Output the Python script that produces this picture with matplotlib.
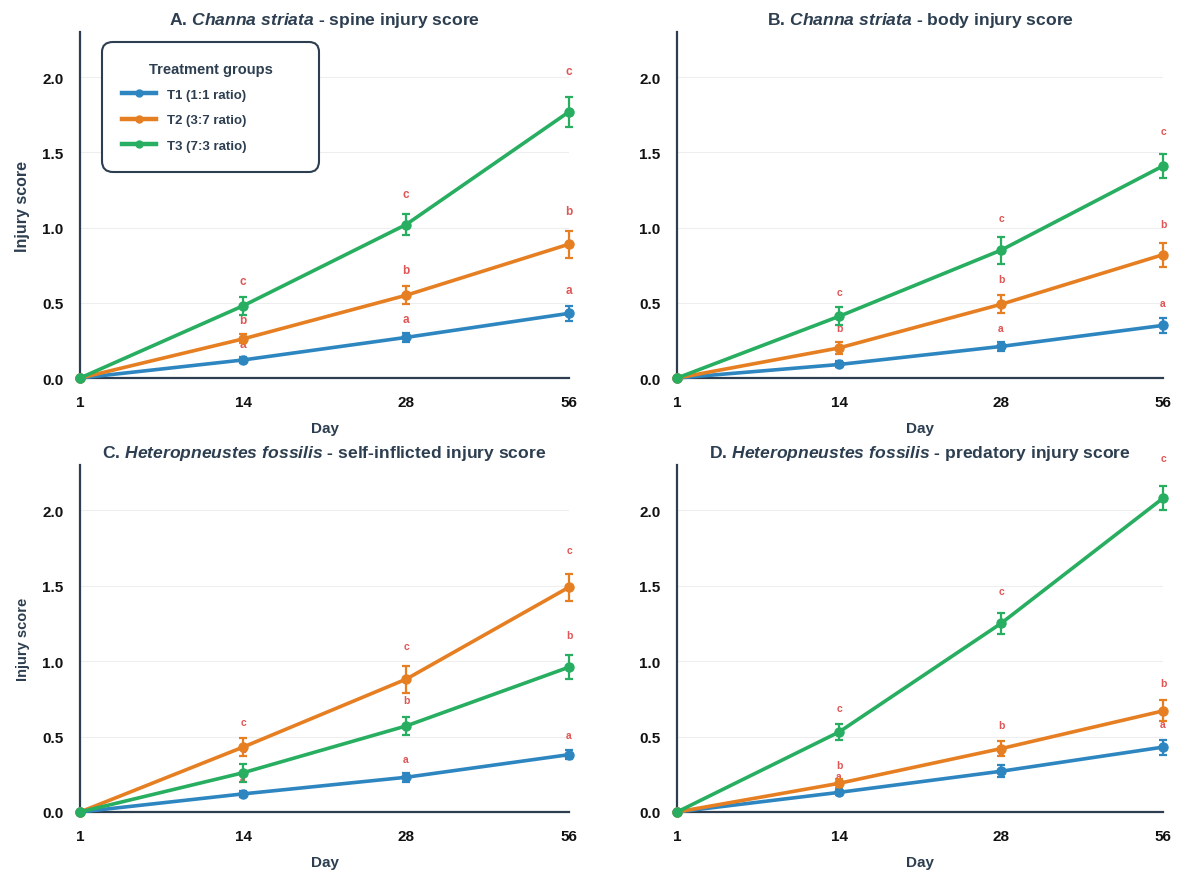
import numpy as np
import matplotlib
matplotlib.use('Agg')
import matplotlib.pyplot as plt
from matplotlib.lines import Line2D

plt.rcParams['font.family'] = ['Liberation Sans', 'DejaVu Sans']
plt.rcParams['mathtext.fontset'] = 'custom'
plt.rcParams['mathtext.it'] = 'Liberation Sans:italic:bold'
plt.rcParams['mathtext.rm'] = 'Liberation Sans:bold'

# Sampling days (plotted at equal spacing) and groups
DAYS = ['1', '14', '28', '56']
GROUPS = ['T1 (1:1 ratio)', 'T2 (3:7 ratio)', 'T3 (7:3 ratio)']
COLORS = ['#2e86c1', '#e67e22', '#27ae60']

TITLES = [
    r'A. $\mathit{Channa\ striata}$ - spine injury score',
    r'B. $\mathit{Channa\ striata}$ - body injury score',
    r'C. $\mathit{Heteropneustes\ fossilis}$ - self-inflicted injury score',
    r'D. $\mathit{Heteropneustes\ fossilis}$ - predatory injury score',
]

# Mean injury scores per panel: rows T1, T2, T3
spine_mean = [[0, 0.12, 0.27, 0.43], [0, 0.26, 0.55, 0.89], [0, 0.48, 1.02, 1.77]]
spine_err = [[0, 0.02, 0.03, 0.05], [0, 0.03, 0.06, 0.09], [0, 0.06, 0.07, 0.10]]
spine_letters = [['', 'a', 'a', 'a'], ['', 'b', 'b', 'b'], ['', 'c', 'c', 'c']]

body_mean = [[0, 0.09, 0.21, 0.35], [0, 0.20, 0.49, 0.82], [0, 0.41, 0.85, 1.41]]
body_err = [[0, 0.02, 0.03, 0.05], [0, 0.04, 0.06, 0.08], [0, 0.06, 0.09, 0.08]]
body_letters = [['', 'a', 'a', 'a'], ['', 'b', 'b', 'b'], ['', 'c', 'c', 'c']]

self_mean = [[0, 0.12, 0.23, 0.38], [0, 0.43, 0.88, 1.49], [0, 0.26, 0.57, 0.96]]
self_err = [[0, 0.02, 0.03, 0.03], [0, 0.06, 0.09, 0.09], [0, 0.06, 0.06, 0.08]]
self_letters = [['', 'a', 'a', 'a'], ['', 'c', 'c', 'c'], ['', 'b', 'b', 'b']]

pred_mean = [[0, 0.13, 0.27, 0.43], [0, 0.19, 0.42, 0.67], [0, 0.53, 1.25, 2.08]]
pred_err = [[0, 0.02, 0.04, 0.05], [0, 0.03, 0.05, 0.07], [0, 0.05, 0.07, 0.08]]
pred_letters = [['', 'a', 'a', 'a'], ['', 'b', 'b', 'b'], ['', 'c', 'c', 'c']]

PANELS = [
    (spine_mean, spine_err, spine_letters),
    (body_mean, body_err, body_letters),
    (self_mean, self_err, self_letters),
    (pred_mean, pred_err, pred_letters),
]

DARK = '#2c3e50'
LETTER_COLOR = '#e05555'

fig = plt.figure(figsize=(12, 8.79), dpi=100)
rects = [
    [0.0667, 0.5688, 0.4075, 0.3936],
    [0.5642, 0.5688, 0.4050, 0.3936],
    [0.0667, 0.0751, 0.4075, 0.3948],
    [0.5642, 0.0751, 0.4050, 0.3948],
]

x = np.arange(len(DAYS))
for i, (means, errs, letters) in enumerate(PANELS):
    ax = fig.add_axes(rects[i])
    for g in range(len(GROUPS)):
        m = np.array(means[g], dtype=float)
        e = np.array(errs[g], dtype=float)
        ax.errorbar(x, m, yerr=e, color=COLORS[g], lw=2.6, marker='o', ms=6.5,
                    capsize=3, capthick=1.6, elinewidth=1.6, clip_on=False,
                    zorder=3, label=GROUPS[g])
        # significance letters just above each error bar
        for j in range(1, len(DAYS)):
            top = m[j] + e[j]
            ax.text(x[j], top + 0.08 + 0.05 * top, letters[g][j], color=LETTER_COLOR,
                    fontsize=8.5 if i == 0 else 7.5, fontweight='bold',
                    ha='center', va='center', zorder=2)

    ax.set_xlim(0, 3)
    ax.set_ylim(0, 2.3)
    ax.set_xticks(x)
    ax.set_xticklabels(DAYS)
    ax.set_yticks([0, 0.5, 1.0, 1.5, 2.0])
    ax.set_yticklabels(['0.0', '0.5', '1.0', '1.5', '2.0'])
    ax.tick_params(length=0, labelsize=11, colors='#111111')
    ax.tick_params(axis='x', pad=12)
    ax.tick_params(axis='y', pad=12)
    for lab in ax.get_xticklabels() + ax.get_yticklabels():
        lab.set_fontweight('bold')
    ax.grid(axis='y', color='#eeeeee', lw=0.8)
    ax.set_axisbelow(True)
    for s in ['top', 'right']:
        ax.spines[s].set_visible(False)
    for s in ['left', 'bottom']:
        ax.spines[s].set_color(DARK)
        ax.spines[s].set_linewidth(1.6)
    ax.set_title(TITLES[i], fontsize=12.6, fontweight='bold', color=DARK, pad=6)
    ax.set_xlabel('Day', fontsize=11, fontweight='bold', color=DARK, labelpad=9)
    if i in (0, 2):
        ax.set_ylabel('Injury score', fontsize=11.5 if i == 0 else 10.5, fontweight='bold',
                      color=DARK, labelpad=9)

    if i == 0:
        handles = [Line2D([], [], color=c, lw=3.2, marker='o', ms=5) for c in COLORS]
        leg = ax.legend(handles, GROUPS, title='Treatment groups', loc='upper left',
                        bbox_to_anchor=(0.045, 0.0, 0.444, 0.972), mode='expand',
                        borderaxespad=0, borderpad=1.5, labelspacing=1.0,
                        handlelength=2.6, handletextpad=0.8,
                        prop={'weight': 'bold', 'size': 9.5},
                        title_fontproperties={'weight': 'bold', 'size': 10.5},
                        frameon=True, fancybox=True, framealpha=1)
        leg.get_title().set_color(DARK)
        for t in leg.get_texts():
            t.set_color(DARK)
        frame = leg.get_frame()
        frame.set_edgecolor(DARK)
        frame.set_linewidth(1.5)
        frame.set_boxstyle('round,pad=0,rounding_size=0.8')

fig.savefig('out.png', dpi=100, facecolor='white')
